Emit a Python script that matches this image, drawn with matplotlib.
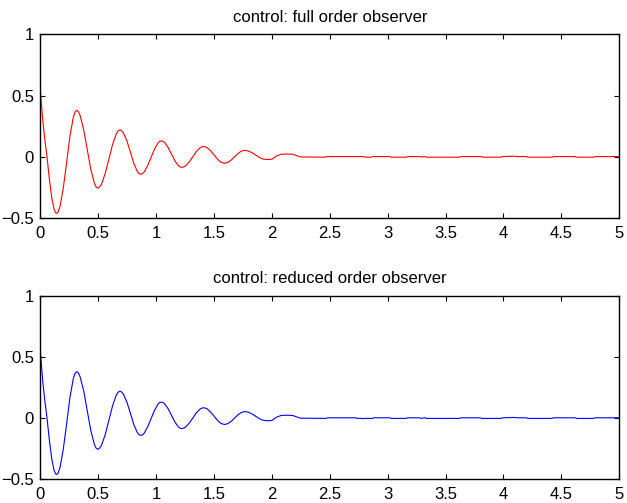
import matplotlib
matplotlib.use('Agg')
import matplotlib.pyplot as plt

plt.rcParams['font.family'] = ['Liberation Sans', 'DejaVu Sans']
plt.rcParams['font.size'] = 12

# 振荡部分（两幅图基本一致），时间 t 与控制量 u
osc_t = [0.0, 0.0, 0.02, 0.038, 0.058, 0.078, 0.10, 0.12, 0.132, 0.141, 0.152,
         0.170, 0.199, 0.228, 0.256, 0.285, 0.300, 0.314, 0.329,
         0.344, 0.375, 0.405, 0.435, 0.466, 0.481, 0.496, 0.512,
         0.528, 0.560, 0.592, 0.624, 0.656, 0.672, 0.688, 0.703,
         0.718, 0.748, 0.778, 0.807, 0.837, 0.852, 0.867, 0.882,
         0.897, 0.926, 0.956, 0.986, 1.015, 1.030, 1.045, 1.060,
         1.074, 1.104, 1.133, 1.162, 1.192, 1.206, 1.221, 1.237,
         1.253, 1.284, 1.316, 1.347, 1.379, 1.395, 1.41, 1.425,
         1.44, 1.47, 1.50, 1.53, 1.56, 1.59,
         1.619, 1.648, 1.678, 1.707, 1.736, 1.765,
         1.796, 1.827, 1.858, 1.888, 1.919, 1.95,
         2.0, 2.04, 2.08, 2.13, 2.18, 2.23, 2.25]
osc_u = [0.0, 0.55, 0.31, 0.15, 0.0, -0.18, -0.34, -0.43, -0.455, -0.46, -0.452,
         -0.404, -0.25, -0.04, 0.17, 0.324, 0.366, 0.38, 0.369,
         0.337, 0.221, 0.062, -0.096, -0.212, -0.244, -0.255, -0.245,
         -0.223, -0.136, -0.018, 0.101, 0.188, 0.212, 0.22, 0.213,
         0.196, 0.130, 0.040, -0.051, -0.117, -0.135, -0.141, -0.136,
         -0.123, -0.073, -0.005, 0.063, 0.113, 0.127, 0.131, 0.127,
         0.117, 0.077, 0.023, -0.031, -0.071, -0.081, -0.085, -0.082,
         -0.074, -0.043, 0.0, 0.043, 0.074, 0.082, 0.085, 0.082,
         0.076, 0.051, 0.017, -0.018, -0.043, -0.052,
         -0.045, -0.026, 0.001, 0.028, 0.047, 0.054,
         0.049, 0.035, 0.017, -0.002, -0.016, -0.021,
         -0.019, 0.008, 0.022, 0.024, 0.022, 0.005, 0.0]

# 稳态后的小抖动
tail_full_t = [2.46, 2.47, 2.79, 2.81, 2.83, 2.85, 2.87, 3.02, 3.03, 3.16, 3.17,
               3.28, 3.29, 3.32, 3.33, 3.62, 3.63, 3.81, 3.82, 3.98, 3.99,
               4.10, 4.11, 4.20, 4.21, 4.42, 4.43, 4.62, 4.63, 4.78, 4.79, 5.0]
tail_full_u = [-0.002, 0.003, 0.003, -0.003, 0.0, -0.003, 0.003, 0.003, -0.002, -0.002, 0.003,
               0.003, -0.001, 0.004, -0.002, -0.002, 0.003, 0.003, -0.002, -0.002, 0.003,
               0.006, 0.003, 0.003, -0.002, -0.002, 0.003, 0.003, -0.002, -0.002, 0.003, 0.003]

tail_reduced_t = [2.47, 2.48, 2.73, 2.74, 2.76, 2.78, 2.80, 2.87, 2.88, 3.02, 3.03,
                  3.16, 3.17, 3.27, 3.29, 3.32, 3.33, 3.62, 3.63, 3.80, 3.81, 3.98, 3.99,
                  4.10, 4.11, 4.20, 4.21, 4.42, 4.43, 4.62, 4.63, 4.78, 4.79, 5.0]
tail_reduced_u = [-0.002, 0.003, 0.003, -0.004, 0.0, -0.004, -0.002, -0.002, 0.003, 0.003, -0.002,
                  -0.002, 0.003, 0.003, -0.002, 0.004, -0.002, -0.002, 0.003, 0.003, -0.002, -0.002, 0.003,
                  0.006, 0.003, 0.003, -0.002, -0.002, 0.003, 0.003, -0.002, -0.002, 0.003, 0.003]

titles = ['control: full order observer', 'control: reduced order observer']
colors = ['red', 'blue']
x_ticks = [0, 0.5, 1, 1.5, 2, 2.5, 3, 3.5, 4, 4.5, 5]
x_labels = ['0', '0.5', '1', '1.5', '2', '2.5', '3', '3.5', '4', '4.5', '5']
y_ticks = [-0.5, 0, 0.5, 1]
y_labels = ['\u22120.5', '0', '0.5', '1']

fig = plt.figure(figsize=(6.27, 5.03), dpi=100)
ax1 = fig.add_axes([0.0643, 0.566, 0.9234, 0.366])
ax2 = fig.add_axes([0.0643, 0.047, 0.9234, 0.365])

series = [(osc_t + tail_full_t, osc_u + tail_full_u),
          (osc_t + tail_reduced_t, osc_u + tail_reduced_u)]

for ax, (t, u), title, c in zip([ax1, ax2], series, titles, colors):
    ax.plot(t, u, color=c, lw=0.8)
    ax.set_xlim(0, 5)
    ax.set_ylim(-0.5, 1)
    ax.set_xticks(x_ticks)
    ax.set_xticklabels(x_labels)
    ax.set_yticks(y_ticks)
    ax.set_yticklabels(y_labels)
    ax.tick_params(direction='in', top=True, right=True, length=3.5, width=0.8)
    ax.tick_params(axis='x', pad=5.5)
    ax.tick_params(axis='y', pad=4.5)
    for s in ax.spines.values():
        s.set_linewidth(1.0)
    ax.set_title(title, fontsize=12, pad=9)

fig.savefig('out.png', dpi=100)
